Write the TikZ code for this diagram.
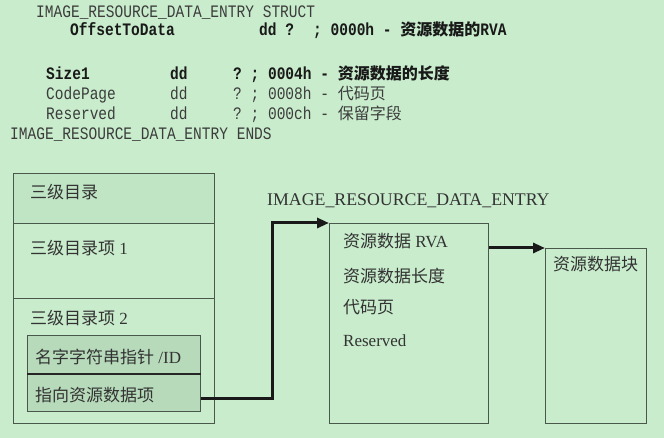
\documentclass[tikz,border=0pt]{standalone}
\usepackage{fontspec}
\setmainfont{Liberation Serif}
\setmonofont[FakeStretch=0.83]{Liberation Mono}
\newfontfamily\cjk{Noto Sans CJK SC}
\usepackage{tikz}
\usepackage{xcolor}
\usetikzlibrary{
    arrows.meta,
    calc,
    positioning
}
\definecolor{bgc}{RGB}{200,236,204}
\definecolor{topc}{RGB}{192,229,197}
\definecolor{innerc}{RGB}{182,218,186}
\definecolor{linec}{RGB}{74,88,76}
\definecolor{codec}{RGB}{60,60,60}

\begin{document}
\begin{tikzpicture}[x=1pt, y=-1pt,
    code/.style={anchor=base west, inner sep=0, font=\ttfamily\fontsize{17.5}{20}\selectfont, text=codec},
    codeb/.style={code, font=\ttfamily\bfseries\fontsize{17.5}{20}\selectfont, text=black!90},
    txt/.style={anchor=base west, inner sep=0, font=\fontsize{17}{20}\selectfont, text=black!80},
    box/.style={draw=linec, line width=1pt, inner sep=0, anchor=north west},
    link/.style={line width=3pt, black!90, -{Triangle[length=12pt, width=10pt]}}]
    \fill[bgc] (0, 0) rectangle (664, 438);
    \useasboundingbox (0, 0) rectangle (664, 438);
    % struct listing
    \node[code] (st) at (36, 18) {IMAGE\_RESOURCE\_DATA\_ENTRY STRUCT};
    \node[codeb] (ofs) at (70, 36) {OffsetToData};
    \node[codeb] (ofsdd) at (259, 36) {dd ?};
    \node[codeb] (ofsc) at (313, 36) {; 0000h - {\cjk\fontsize{16}{20}\selectfont 资源数据的}RVA};
    \node[codeb] (sz) at (46, 80) {Size1};
    \node[codeb] (szdd) at (170, 80) {dd};
    \node[codeb] (szc) at (233, 80) {? ; 0004h - {\cjk\fontsize{16}{20}\selectfont 资源数据的长度}};
    \node[code] (cp) at (46, 100) {CodePage};
    \node[code] (cpdd) at (170, 100) {dd};
    \node[code] (cpc) at (233, 100) {? ; 0008h - {\cjk\fontsize{16}{20}\selectfont 代码页}};
    \node[code] (rs) at (46, 120) {Reserved};
    \node[code] (rsdd) at (170, 120) {dd};
    \node[code] (rsc) at (233, 120) {? ; 000ch - {\cjk\fontsize{16}{20}\selectfont 保留字段}};
    \node[code] (ends) at (10, 140) {IMAGE\_RESOURCE\_DATA\_ENTRY ENDS};
    % boxes
    \node[box, fill=topc, minimum width=201pt, minimum height=50pt] (dir) at (13, 173) {};
    \node[box, minimum width=201pt, minimum height=75pt] (item1) at (13, 223) {};
    \node[box, minimum width=201pt, minimum height=125pt] (item2) at (13, 298) {};
    \node[box, fill=innerc, minimum width=173pt, minimum height=38pt] (nameid) at (27, 335) {};
    \node[box, fill=innerc, minimum width=173pt, minimum height=38pt] (ptr) at (27, 373) {};
    \draw[line width=2pt, black!85] (nameid.south west) -- (nameid.south east);
    \node[box, minimum width=159pt, minimum height=200pt] (entry) at (329, 223) {};
    \node[box, minimum width=101pt, minimum height=175pt] (block) at (545, 248) {};
    % texts
    \node[txt] (tdir) at (30, 199) {\cjk 三级目录};
    \node[txt] (titem1) at (30, 255) {{\cjk 三级目录项} 1};
    \node[txt] (titem2) at (30, 325) {{\cjk 三级目录项} 2};
    \node[txt] (tnameid) at (35, 363) {{\cjk 名字字符串指针} /ID};
    \node[txt] (tptr) at (35, 401) {\cjk 指向资源数据项};
    \node[txt, font=\fontsize{17.8}{20}\selectfont] (lbl) at (267, 206) {IMAGE\_RESOURCE\_DATA\_ENTRY};
    \node[txt] (trva) at (343, 248) {{\cjk 资源数据} RVA};
    \node[txt] (tlen) at (343, 283) {\cjk 资源数据长度};
    \node[txt] (tcp) at (343, 314) {\cjk 代码页};
    \node[txt] (tres) at (343, 346) {Reserved};
    \node[txt] (tblock) at (553, 271) {\cjk 资源数据块};
    % links
    \draw[link] ([yshift=-6pt]ptr.east) -- ++(71, 0) |- (entry.north west);
    \draw[link] (entry.east |- block.north west) -- (block.north west);
\end{tikzpicture}
\end{document}
